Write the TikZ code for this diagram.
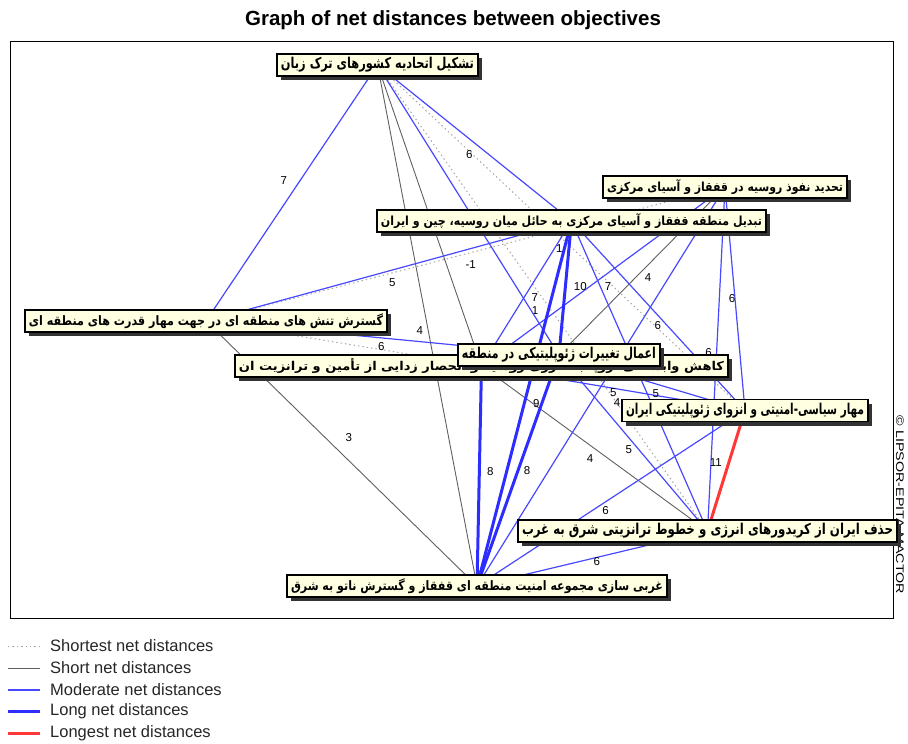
\documentclass[tikz,border=0pt]{standalone}
\usepackage{fontspec}
\setmainfont{Liberation Sans}
\newfontfamily\fa[Script=Arabic]{DejaVu Sans}
\TeXXeTstate=1
\usetikzlibrary{shadows}

\definecolor{boxfill}{RGB}{255,255,225}
\definecolor{modblue}{RGB}{72,72,255}
\definecolor{longblue}{RGB}{45,45,255}
\definecolor{shortgray}{RGB}{95,95,95}
\definecolor{dotgray}{RGB}{165,165,165}
\definecolor{maxred}{RGB}{255,55,55}

\pgfdeclarelayer{edges}
\pgfsetlayers{edges,main}

\tikzset{
  obj/.style={draw=black, line width=1.6pt, fill=boxfill, inner xsep=4pt, inner ysep=0pt,
    minimum height=22pt, general shadow={fill=black!80, shadow xshift=4pt, shadow yshift=-4pt}},
  shortest/.style={draw=dotgray, line width=1pt, dash pattern=on 1.4pt off 3pt},
  short/.style={draw=shortgray, line width=0.9pt},
  moderate/.style={draw=modblue, line width=1.2pt},
  long/.style={draw=longblue, line width=3pt},
  longest/.style={draw=maxred, line width=3pt},
  lab/.style={font=\fontsize{11.5}{11.5}\selectfont, inner sep=0pt, text=black},
  legtext/.style={font=\fontsize{16.5}{16.5}\selectfont, anchor=west, inner sep=0pt, text=black!85},
}

% objective box: name, centre x, centre y, text width, text (already wrapped in \beginR...\endR)
\newcommand\objective[5]{%
  \node[obj] (#1) at (#2,#3) {\resizebox*{#4pt}{15pt}{\fa\bfseries #5}};}

\begin{document}
\begin{tikzpicture}[x=1pt,y=-1pt]
\useasboundingbox (0,0) rectangle (908,744);

% title and frame
\node[font=\bfseries\fontsize{20.5}{20.5}\selectfont] (title) at (453,20) {Graph of net distances between objectives};
\draw[line width=1pt] (10,41) rectangle (893,618);
\node[rotate=-90, font=\fontsize{11}{11}\selectfont, inner sep=0pt] (copy) at (900,505) {\scalebox{1.3}[1]{\textcopyright\ LIPSOR-EPITA-MACTOR}};

% objectives
\objective{N1}{377.5}{65}{193}{\beginR تشکیل اتحادیه کشورهای ترک زبان\endR}
\objective{N2}{725}{187}{236}{\beginR تحدید نفوذ روسیه در قفقاز و آسیای مرکزی\endR}
\objective{N3}{571.5}{221}{381}{\beginR تبدیل منطقه قفقاز و آسیای مرکزی به حائل میان روسیه، چین و ایران\endR}
\objective{N4}{206}{321}{354}{\beginR گسترش تنش های منطقه ای در جهت مهار قدرت های منطقه ای\endR}
\objective{N6}{481.5}{366}{485}{\beginR کاهش وابستگی اروپا به انرژی روسیه و انحصار زدایی از تأمین و ترانزیت ان\endR}
\objective{N5}{559}{355}{194}{\beginR اعمال تغییرات ژئوپلیتیکی در منطقه\endR}
\objective{N7}{745}{410.5}{238}{\beginR مهار سیاسی-امنیتی و انزوای ژئوپلیتیکی ایران\endR}
\objective{N8}{707.5}{531}{371}{\beginR حذف ایران از کریدورهای انرژی و خطوط ترانزیتی شرق به غرب\endR}
\objective{N9}{477}{586}{372}{\beginR غربی سازی مجموعه امنیت منطقه ای قفقاز و گسترش ناتو به شرق\endR}

\begin{pgfonlayer}{edges}
% shortest net distances
\draw[shortest] (N1.center) -- node[lab,pos=0.53,xshift=-13pt]{1} (N7.center);
\draw[shortest] (N1.center) -- node[lab,pos=0.526,xshift=-16pt]{1} (N8.center);
\draw[shortest] (N2.center) -- node[lab,pos=0.49,yshift=-12pt]{-1} (N4.center);
\draw[shortest] (N4.center) -- node[lab,pos=0.636,yshift=3pt]{6} (N6.center);
% short net distances
\draw[short] (N1.center) -- (N6.center);
\draw[short] (N1.center) -- (N9.center);
\draw[short] (N4.center) -- node[lab,pos=0.438,xshift=24pt]{3} (N9.center);
\draw[short] (N2.center) -- node[lab,pos=0.464,yshift=-13pt]{4} (N5.center);
\draw[short] (N6.center) -- node[lab,pos=0.48,yshift=-13pt]{4} (N8.center);
% moderate net distances
\draw[moderate] (N1.center) -- node[lab,pos=0.453,xshift=-16pt]{7} (N4.center);
\draw[moderate] (N1.center) -- node[lab,pos=0.577,xshift=-20pt]{6} (N3.center);
\draw[moderate] (N1.center) -- (N5.center);
\draw[moderate] (N3.center) -- node[lab,pos=0.49,yshift=-13pt]{5} (N4.center);
\draw[moderate] (N4.center) -- node[lab,pos=0.606,yshift=11pt]{4} (N5.center);
\draw[moderate] (N3.center) -- node[lab,pos=0.53,xshift=11pt]{7} (N6.center);
\draw[moderate] (N3.center) -- (N8.center);
\draw[moderate] (N3.center) -- node[lab,pos=0.55,xshift=-9pt]{6} (N7.center);
\draw[moderate] (N2.center) -- node[lab,pos=0.48,yshift=-14pt]{7} (N6.center);
\draw[moderate] (N2.center) -- node[lab,pos=0.5,xshift=-3pt]{6} (N7.center);
\draw[moderate] (N2.center) -- node[lab,pos=0.48,xshift=-8pt]{6} (N8.center);
\draw[moderate] (N2.center) -- node[lab,pos=0.54,xshift=26pt]{4} (N9.center);
\draw[moderate] (N6.center) -- node[lab,pos=0.5,yshift=-4pt]{5} (N7.center);
\draw[moderate] (N5.center) -- node[lab,pos=0.52,yshift=-10pt]{5} (N7.center);
\draw[moderate] (N5.center) -- node[lab,pos=0.47,yshift=-12pt]{5} (N8.center);
\draw[moderate] (N9.center) -- node[lab,pos=0.48,yshift=-9pt]{6} (N7.center);
\draw[moderate] (N9.center) -- node[lab,pos=0.52,yshift=-4pt]{6} (N8.center);
% long net distances
\draw[long] (N3.center) -- node[lab,pos=0.49,xshift=15pt]{10} (N5.center);
\draw[long] (N3.center) -- node[lab,pos=0.5,xshift=12pt]{9} (N9.center);
\draw[long] (N5.center) -- node[lab,pos=0.5,xshift=9pt]{8} (N9.center);
\draw[long] (N6.center) -- node[lab,pos=0.48,xshift=11pt]{8} (N9.center);
% longest net distance
\draw[longest] (N7.center) -- node[lab,pos=0.43,xshift=-13pt]{11} (N8.center);
\end{pgfonlayer}

% legend
\coordinate (l1a) at (8,646);   \coordinate (l1b) at (40,646);
\coordinate (l2a) at (8,668);   \coordinate (l2b) at (40,668);
\coordinate (l3a) at (8,690);   \coordinate (l3b) at (40,690);
\coordinate (l4a) at (8,711);   \coordinate (l4b) at (40,711);
\coordinate (l5a) at (8,733);   \coordinate (l5b) at (40,733);
\draw[shortest] (l1a) -- (l1b);
\draw[short] (l2a) -- (l2b);
\draw[moderate] (l3a) -- (l3b);
\draw[long] (l4a) -- (l4b);
\draw[longest] (l5a) -- (l5b);
\node[legtext] (t1) at (50,646) {Shortest net distances};
\node[legtext] (t2) at (50,668) {Short net distances};
\node[legtext] (t3) at (50,690) {Moderate net distances};
\node[legtext] (t4) at (50,711) {Long net distances};
\node[legtext] (t5) at (50,733) {Longest net distances};
\end{tikzpicture}
\end{document}
